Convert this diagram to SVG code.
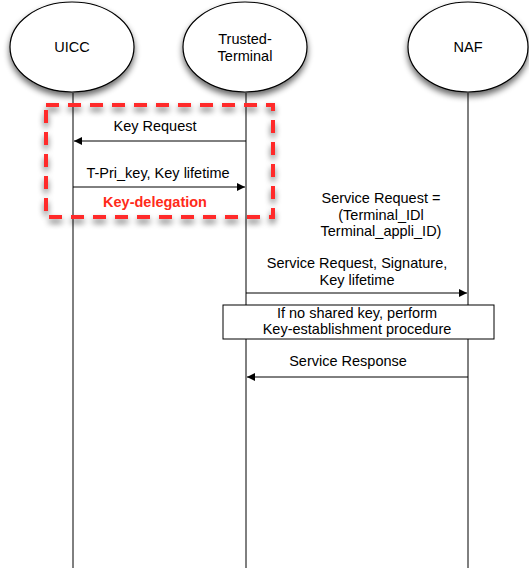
<svg xmlns="http://www.w3.org/2000/svg" width="529" height="568" viewBox="0 0 529 568">
  <defs>
    <filter id="shadow" x="-20%" y="-20%" width="150%" height="150%">
      <feGaussianBlur in="SourceAlpha" stdDeviation="3"/>
      <feOffset dx="0" dy="4" result="b"/>
      <feComponentTransfer><feFuncA type="linear" slope="0.6"/></feComponentTransfer>
      <feMerge><feMergeNode/><feMergeNode in="SourceGraphic"/></feMerge>
    </filter>
    <marker id="arrow" viewBox="0 0 10 10" refX="10" refY="5" markerWidth="11" markerHeight="8" markerUnits="userSpaceOnUse" orient="auto">
      <path d="M0,0 L10,5 L0,10 z" fill="#000"/>
    </marker>
  </defs>
  <style>
    text { font-family: "Liberation Sans", Arial, sans-serif; font-size: 14.5px; fill: #000; text-anchor: middle; }
    .actor { fill: #fff; stroke: #000; stroke-width: 1.2; }
    .life { stroke: #000; stroke-width: 1; fill: none; }
    .msg { stroke: #000; stroke-width: 1; fill: none; marker-end: url(#arrow); }
    .note { fill: #fff; stroke: #000; stroke-width: 1; }
    .group { fill: none; stroke: #ff2a2a; stroke-width: 4; stroke-dasharray: 13 9; }
    .red { fill: #ff2a1a; font-weight: bold; }
  </style>
  <rect width="529" height="568" fill="#fff"/>

  <!-- lifelines -->
  <g id="lifelines">
    <line class="life" x1="73" y1="93" x2="73" y2="568"/>
    <line class="life" x1="246" y1="93" x2="246" y2="568"/>
    <line class="life" x1="468" y1="93" x2="468" y2="568"/>
  </g>

  <g id="uicc">
    <ellipse class="actor" cx="72" cy="47" rx="62" ry="45" filter="url(#shadow)"/>
    <text x="72" y="52">UICC</text>
  </g>
  <g id="trusted-terminal">
    <ellipse class="actor" cx="245" cy="47" rx="62" ry="45" filter="url(#shadow)"/>
    <text x="245" y="44">Trusted-</text>
    <text x="245" y="61">Terminal</text>
  </g>
  <g id="naf">
    <ellipse class="actor" cx="468" cy="47" rx="60" ry="45" filter="url(#shadow)"/>
    <text x="468" y="52">NAF</text>
  </g>

  <!-- key delegation group -->
  <g id="key-delegation">
    <rect class="group" x="46" y="105" width="227" height="112" filter="url(#shadow)"/>
    <text class="red" x="155" y="207">Key-delegation</text>
  </g>

  <g id="connectors">
    <line class="msg" x1="246" y1="141" x2="74" y2="141"/>
    <text x="155" y="131">Key Request</text>
    <line class="msg" x1="73" y1="187" x2="245" y2="187"/>
    <text x="158" y="178">T-Pri_key, Key lifetime</text>

    <line class="msg" x1="246" y1="293" x2="467" y2="293"/>
    <text x="357" y="268">Service Request, Signature,</text>
    <text x="357" y="285">Key lifetime</text>

    <line class="msg" x1="468" y1="377" x2="247" y2="377"/>
    <text x="348" y="366">Service Response</text>
  </g>

  <g id="service-request-note">
    <text x="381" y="203">Service Request =</text>
    <text x="381" y="220">(Terminal_IDl</text>
    <text x="381" y="236">Terminal_appli_ID)</text>
  </g>

  <g id="key-establishment">
    <rect class="note" x="223" y="305" width="271" height="34"/>
    <text x="357" y="318">If no shared key, perform</text>
    <text x="357" y="334">Key-establishment procedure</text>
  </g>
</svg>
